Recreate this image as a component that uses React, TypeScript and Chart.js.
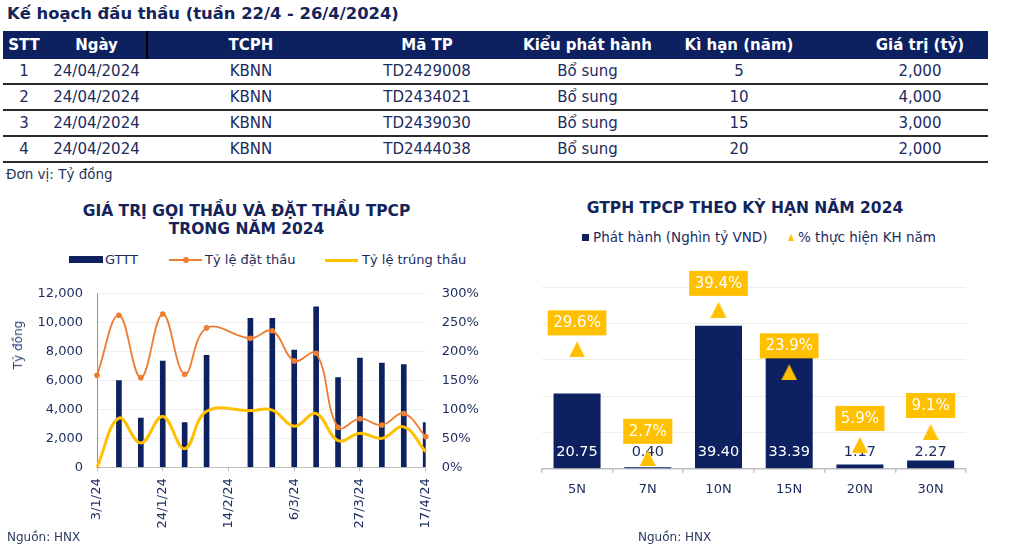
import React, { useEffect, useRef } from 'react';
import { Chart, registerables } from 'chart.js';

Chart.register(...registerables);

const FONT = '"DejaVu Sans", sans-serif';
const NAVY = '#0d2161';
const TEXT = '#1b2b5e';
const ORANGE = '#ED7D31';
const GOLD = '#FFC000';

// ---------- Table data ----------
const tableTitle = 'Kế hoạch đấu thầu (tuần 22/4 - 26/4/2024)';
const tableHeaders = ['STT', 'Ngày', 'TCPH', 'Mã TP', 'Kiểu phát hành', 'Kì hạn (năm)', 'Giá trị (tỷ)'];
const rowStt = ['1', '2', '3', '4'];
const rowDates = ['24/04/2024', '24/04/2024', '24/04/2024', '24/04/2024'];
const rowIssuer = ['KBNN', 'KBNN', 'KBNN', 'KBNN'];
const rowCodes = ['TD2429008', 'TD2434021', 'TD2439030', 'TD2444038'];
const rowType = ['Bổ sung', 'Bổ sung', 'Bổ sung', 'Bổ sung'];
const rowTerm = ['5', '10', '15', '20'];
const rowValue = ['2,000', '4,000', '3,000', '2,000'];

// ---------- Left chart data ----------
const bidDates = ['3/1/24', '10/1/24', '17/1/24', '24/1/24', '31/1/24', '7/2/24', '14/2/24', '21/2/24',
  '28/2/24', '6/3/24', '13/3/24', '20/3/24', '27/3/24', '3/4/24', '10/4/24', '17/4/24'];
const gttt = [0, 6000, 3400, 7350, 3100, 7750, null, 10300, 10300, 8100, 11100, 6200, 7550, 7200, 7100, 3100];
const bidRatio = [159, 263, 155, 265, 161, 241, null, 223, 236, 184, 197, 69, 84, 73, 93, 53];
const winRatio = [0, 85, 42, 88, 32, 97, null, 98, 99, 71, 93, 46, 59, 50, 70, 27];
const leftTicksPct = [0, 50, 100, 150, 200, 250, 300];

// ---------- Right chart data ----------
const tenors = ['5N', '7N', '10N', '15N', '20N', '30N'];
const issued = [20.75, 0.40, 39.40, 33.39, 1.17, 2.27];
const planPct = [29.6, 2.7, 39.4, 23.9, 5.9, 9.1];

type TP = { x: number; y: number; size: number; bold?: boolean; color?: string; align?: 'left' | 'center'; children: React.ReactNode };
function T({ x, y, size, bold, color = TEXT, align = 'left', children }: TP) {
  const L = Math.round(size * 1.4);
  const style: React.CSSProperties = {
    position: 'absolute', top: y - L / 2, height: L, lineHeight: L + 'px', fontSize: size,
    fontWeight: bold ? 700 : 400, color, whiteSpace: 'nowrap', fontFamily: FONT,
  };
  if (align === 'center') { style.left = x - 300; style.width = 600; style.textAlign = 'center'; }
  else style.left = x;
  return <div style={style}>{children}</div>;
}

function LeftChart() {
  const ref = useRef<HTMLCanvasElement>(null);
  useEffect(() => {
    const chart = new Chart(ref.current!, {
      type: 'bar',
      data: {
        labels: bidDates,
        datasets: [
          {
            type: 'line', label: 'Tỷ lệ đặt thầu', data: bidRatio as any, yAxisID: 'y1',
            borderColor: ORANGE, backgroundColor: ORANGE, borderWidth: 1.8, pointRadius: 2.8,
            pointBackgroundColor: ORANGE, pointBorderWidth: 0, tension: 0.4, spanGaps: true, order: 0,
          } as any,
          {
            type: 'line', label: 'Tỷ lệ trúng thầu', data: winRatio as any, yAxisID: 'y1',
            borderColor: GOLD, backgroundColor: GOLD, borderWidth: 3, pointRadius: 0,
            tension: 0.4, spanGaps: true, order: 1,
          } as any,
          {
            type: 'bar', label: 'GTTT', data: gttt as any, yAxisID: 'y',
            backgroundColor: NAVY, barThickness: 5, order: 2,
          } as any,
        ],
      },
      options: {
        animation: false,
        responsive: false,
        maintainAspectRatio: false,
        layout: { padding: { top: 15, left: 0, right: 0, bottom: 0 } },
        plugins: { legend: { display: false }, tooltip: { enabled: false } },
        scales: {
          x: {
            offset: false,
            grid: { offset: false, drawOnChartArea: false, drawTicks: true, tickLength: 4, color: '#bfbfbf' },
            border: { color: '#bfbfbf', width: 1 },
            ticks: {
              autoSkip: false, minRotation: 90, maxRotation: 90, padding: 7, color: TEXT,
              font: { family: FONT, size: 13 },
              callback: (_v: any, i: number) => (i % 3 === 0 ? bidDates[i] : null),
            },
            afterFit: (s: any) => { s.height = 80.7; },
          },
          y: {
            position: 'left', min: 0, max: 12000,
            ticks: {
              stepSize: 2000, padding: 14, color: TEXT, font: { family: FONT, size: 13 },
              callback: (v: any) => Number(v).toLocaleString('en-US'),
            },
            grid: { color: '#efefef', drawTicks: false },
            border: { color: '#8593bf', width: 1 },
            afterFit: (s: any) => { s.width = 97; },
          },
          y1: {
            position: 'right', min: 0, max: 300,
            afterBuildTicks: (s: any) => { s.ticks = leftTicksPct.map((v) => ({ value: v })); },
            ticks: {
              padding: 16, color: TEXT, font: { family: FONT, size: 13 },
              callback: (v: any) => v + '%',
            },
            grid: { display: false, drawTicks: false },
            border: { display: false },
            afterFit: (s: any) => { s.width = 86.3; },
          },
        },
      } as any,
    });
    return () => chart.destroy();
  }, []);
  return <canvas ref={ref} width={512} height={278} style={{ position: 'absolute', left: 0, top: 270, width: 512, height: 278 }} />;
}

function RightChart() {
  const ref = useRef<HTMLCanvasElement>(null);
  useEffect(() => {
    const tri = document.createElement('canvas');
    tri.width = 16; tri.height = 16;
    const tc = tri.getContext('2d')!;
    tc.fillStyle = GOLD;
    tc.beginPath(); tc.moveTo(8, 0); tc.lineTo(16, 16); tc.lineTo(0, 16); tc.closePath(); tc.fill();

    const labelsPlugin = {
      id: 'rightLabels',
      afterDatasetDraw(chart: any, args: any) {
        if (args.index !== 0) return;
        const ctx = chart.ctx;
        const meta = chart.getDatasetMeta(0);
        const base = chart.scales.y.getPixelForValue(0);
        ctx.save();
        ctx.font = `14.5px ${FONT}`;
        ctx.textAlign = 'center';
        ctx.textBaseline = 'middle';
        meta.data.forEach((bar: any, i: number) => {
          const cy = base - 16;
          ctx.fillStyle = bar.y < cy - 10 ? '#ffffff' : TEXT;
          ctx.fillText(issued[i].toFixed(2), bar.x, cy);
        });
        ctx.restore();
      },
      afterDatasetsDraw(chart: any) {
        const ctx = chart.ctx;
        const meta = chart.getDatasetMeta(1);
        ctx.save();
        ctx.font = `15px ${FONT}`;
        ctx.textAlign = 'center';
        ctx.textBaseline = 'middle';
        meta.data.forEach((pt: any, i: number) => {
          const txt = planPct[i].toFixed(1) + '%';
          const w = ctx.measureText(txt).width + 11;
          const h = 25;
          const cy = pt.y - 26.5;
          ctx.fillStyle = GOLD;
          ctx.fillRect(pt.x - w / 2, cy - h / 2, w, h);
          ctx.fillStyle = '#ffffff';
          ctx.fillText(txt, pt.x, cy + 0.5);
        });
        ctx.restore();
      },
    };

    const chart = new Chart(ref.current!, {
      type: 'bar',
      data: {
        labels: tenors,
        datasets: [
          {
            type: 'bar', label: 'Phát hành (Nghìn tỷ VND)', data: issued, yAxisID: 'y',
            backgroundColor: NAVY, barPercentage: 0.665, categoryPercentage: 1, order: 1,
          } as any,
          {
            type: 'line', label: '% thực hiện KH năm', data: planPct, yAxisID: 'y1',
            showLine: false, pointStyle: tri, pointRadius: 8, order: 0,
          } as any,
        ],
      },
      options: {
        animation: false,
        responsive: false,
        maintainAspectRatio: false,
        layout: { padding: { top: 37.3, right: 58, left: 0, bottom: 0 } },
        plugins: { legend: { display: false }, tooltip: { enabled: false } },
        scales: {
          x: {
            grid: { offset: true, drawOnChartArea: false, drawTicks: true, tickLength: 4, color: '#bfbfbf', lineWidth: 1.5 },
            border: { color: '#bfbfbf', width: 1.5 },
            ticks: { color: TEXT, font: { family: FONT, size: 13 }, padding: 9 },
            afterFit: (s: any) => { s.height = 79.3; },
          },
          y: {
            min: 0, max: 50,
            ticks: { stepSize: 10, display: false },
            grid: { color: '#efefef', drawTicks: false },
            border: { display: false },
            afterFit: (s: any) => { s.width = 21.7; },
          },
          y1: { display: false, position: 'right', min: 0, max: 45 },
        },
      } as any,
      plugins: [labelsPlugin],
    });
    return () => chart.destroy();
  }, []);
  return <canvas ref={ref} width={504} height={298} style={{ position: 'absolute', left: 520, top: 250, width: 504, height: 298 }} />;
}

const colCenters = [24, 96.5, 251, 427, 587.5, 739, 920];
const rowCentersY = [71.7, 97.5, 123.3, 149.2];
const borderYs = [83, 109, 135, 161];

export default function App() {
  const rows = rowStt.map((s, i) => [s, rowDates[i], rowIssuer[i], rowCodes[i], rowType[i], rowTerm[i], rowValue[i]]);
  return (
    <div style={{ position: 'absolute', left: 0, top: 0, width: 1024, height: 548, background: '#ffffff', overflow: 'hidden', fontFamily: FONT }}>
      <T x={7} y={13.7} size={16.4} bold color="#14245a">{tableTitle}</T>
      <div style={{ position: 'absolute', left: 3, top: 31, width: 985, height: 28, background: NAVY }} />
      <div style={{ position: 'absolute', left: 146, top: 31, width: 2, height: 28, background: '#000000' }} />
      {tableHeaders.map((h, i) => (
        <T key={'h' + i} x={colCenters[i]} y={45.2} size={15} bold color="#ffffff" align="center">{h}</T>
      ))}
      {rows.map((r, ri) => r.map((c, ci) => (
        <T key={'c' + ri + '-' + ci} x={colCenters[ci]} y={rowCentersY[ri]} size={15} color={TEXT} align="center">{c}</T>
      )))}
      {borderYs.map((y, i) => (
        <div key={'b' + i} style={{ position: 'absolute', left: 3, top: y, width: 985, height: i === 3 ? 2.3 : 2, background: '#2b2b2b' }} />
      ))}
      <T x={6} y={174} size={13.5} color="#2a3556">Đơn vị: Tỷ đồng</T>

      {/* Left chart */}
      <T x={246.5} y={210.7} size={15.5} bold color="#14245a" align="center">GIÁ TRỊ GỌI THẦU VÀ ĐẶT THẦU TPCP</T>
      <T x={246.5} y={229.3} size={15.5} bold color="#14245a" align="center">TRONG NĂM 2024</T>
      <div style={{ position: 'absolute', left: 69, top: 256, width: 34, height: 7, background: NAVY }} />
      <T x={105} y={260} size={13} color={TEXT}>GTTT</T>
      <div style={{ position: 'absolute', left: 169, top: 259, width: 33, height: 2, background: ORANGE }} />
      <div style={{ position: 'absolute', left: 183, top: 257, width: 6, height: 6, borderRadius: 3, background: ORANGE }} />
      <T x={205} y={260} size={13} color={TEXT}>Tỷ lệ đặt thầu</T>
      <div style={{ position: 'absolute', left: 325, top: 258.5, width: 33, height: 3, background: GOLD }} />
      <T x={362} y={260} size={13} color={TEXT}>Tỷ lệ trúng thầu</T>
      <LeftChart />
      <div style={{ position: 'absolute', left: 18, top: 345, transform: 'translate(-50%, -50%) rotate(-90deg)', fontSize: 12, color: '#2c3d72', whiteSpace: 'nowrap', fontFamily: FONT }}>Tỷ đồng</div>
      <T x={7} y={537} size={12} color="#2e3b63">Nguồn: HNX</T>

      {/* Right chart */}
      <T x={745} y={208} size={15.5} bold color="#14245a" align="center">GTPH TPCP THEO KỲ HẠN NĂM 2024</T>
      <div style={{ position: 'absolute', left: 582, top: 233.5, width: 7, height: 7, background: NAVY }} />
      <T x={593} y={237} size={13.5} color={TEXT}>Phát hành (Nghìn tỷ VND)</T>
      <div style={{ position: 'absolute', left: 788, top: 233.5, width: 0, height: 0, borderLeft: '3.5px solid transparent', borderRight: '3.5px solid transparent', borderBottom: '7px solid ' + GOLD }} />
      <T x={798} y={237} size={13.5} color={TEXT}>% thực hiện KH năm</T>
      <RightChart />
      <T x={638} y={537.5} size={12} color="#2e3b63">Nguồn: HNX</T>
    </div>
  );
}
